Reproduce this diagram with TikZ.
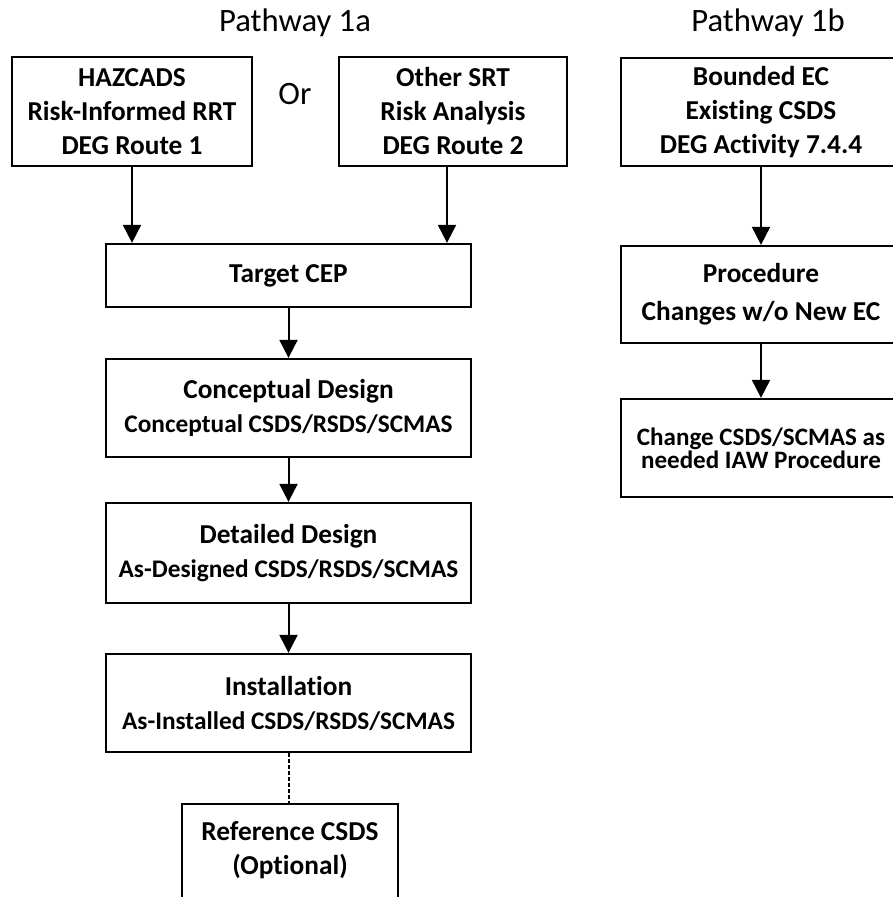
\documentclass[tikz,border=0pt]{standalone}
\usepackage{fontspec}
\setmainfont{Carlito}[Ligatures=NoCommon]
\usetikzlibrary{arrows.meta}

\tikzset{every picture/.style={line width=0.75pt}}
\tikzset{
	stepbox/.style={draw, line width=1.7pt, align=center, inner sep=0pt,
		font=\bfseries\fontsize{20.5}{25.5}\selectfont},
	flow/.style={line width=1.5pt, -{Triangle[length=13.5pt,width=13.5pt]}},
	pathtitle/.style={anchor=base, font=\fontsize{24.5}{29}\selectfont}}
\newcommand{\subline}{\fontsize{19}{25}\selectfont}

\begin{document}
\begin{tikzpicture}[x=0.75pt,y=0.75pt,yscale=-1,xscale=1]
	\useasboundingbox (0,0) rectangle (893,897);
	\clip (0,0) rectangle (893,897);

	% Text Node
	\node[pathtitle] (t1a) at (295,31) {Pathway 1a};
	% Text Node
	\node[pathtitle] (t1b) at (768,31) {Pathway 1b};
	% Text Node
	\node[pathtitle] (or) at (295,104) {Or};

	%Shape: Rectangle
	\node[stepbox, minimum width=180pt, minimum height=81.75pt] (haz) at (132,111.5) {HAZCADS\\Risk-Informed RRT\\DEG Route 1};
	%Shape: Rectangle
	\node[stepbox, minimum width=171pt, minimum height=81.75pt] (srt) at (453,111.5) {Other SRT\\Risk Analysis\\DEG Route 2};
	%Shape: Rectangle
	\node[stepbox, minimum width=273.75pt, minimum height=47.25pt] (cep) at (288.5,275.5) {Target CEP};
	%Shape: Rectangle
	\node[stepbox, minimum width=273.75pt, minimum height=73.5pt] (concept) at (288.5,408) {Conceptual Design\\{\subline Conceptual CSDS/RSDS/SCMAS}};
	%Shape: Rectangle
	\node[stepbox, minimum width=273.75pt, minimum height=75pt] (detail) at (288.5,553) {Detailed Design\\{\subline As-Designed CSDS/RSDS/SCMAS}};
	%Shape: Rectangle
	\node[stepbox, minimum width=273.75pt, minimum height=73.5pt] (install) at (288.5,703) {Installation\\{\subline As-Installed CSDS/RSDS/SCMAS}};
	%Shape: Rectangle
	\node[stepbox, anchor=north, minimum width=162pt, inner ysep=13pt, text depth=60pt] (ref) at (290,803) {Reference CSDS\\(Optional)};

	%Shape: Rectangle
	\node[stepbox, minimum width=210pt, minimum height=81pt] (bec) at (761,112) {Bounded EC\\Existing CSDS\\DEG Activity 7.4.4};
	%Shape: Rectangle
	\node[stepbox, minimum width=210pt, minimum height=72.75pt, font=\bfseries\fontsize{20.5}{28.5}\selectfont] (proc) at (761,294.5) {Procedure\\Changes w/o New EC};
	%Shape: Rectangle
	\node[stepbox, minimum width=210pt, minimum height=73.5pt, font=\bfseries\fontsize{18.8}{16.3}\selectfont] (chg) at (761,448) {Change CSDS/SCMAS as\\needed IAW Procedure};

	%Straight Lines
	\draw[flow] (haz.south) -- (haz.south |- cep.north);
	\draw[flow] ([xshift=-4.5pt]srt.south) -- ([xshift=-4.5pt]srt.south |- cep.north);
	\draw[flow] (cep) -- (concept);
	\draw[flow] (concept) -- (detail);
	\draw[flow] (detail) -- (install);
	\draw[line width=1.5pt, dash pattern=on 2.6pt off 1.9pt] (install.south) -- (install.south |- ref.north);
	\draw[flow] (bec) -- (proc);
	\draw[flow] (proc) -- (chg);

\end{tikzpicture}
\end{document}
